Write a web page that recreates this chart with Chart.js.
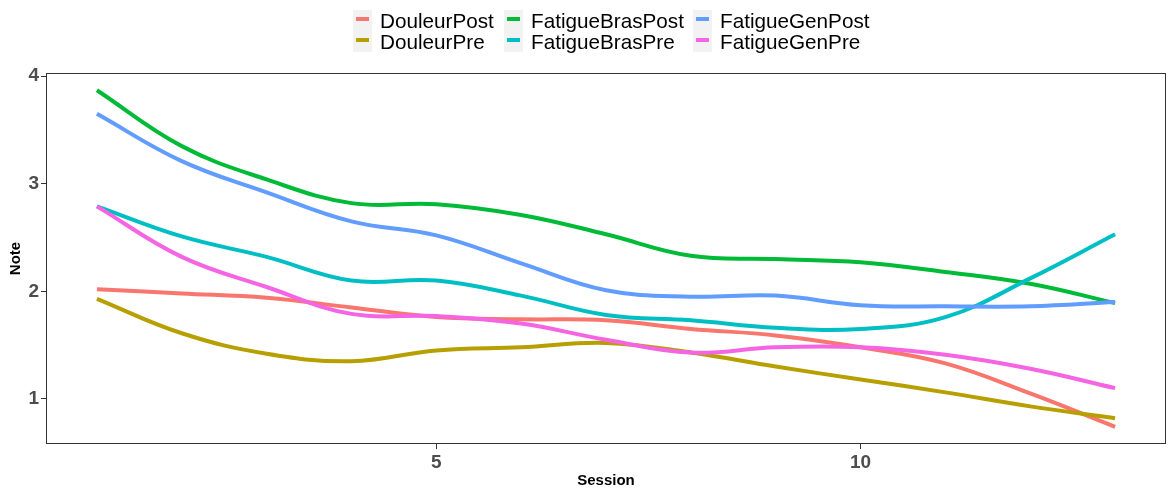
<!DOCTYPE html>
<html>
<head>
<meta charset="utf-8">
<script src="https://cdn.jsdelivr.net/npm/chart.js@4.4.1/dist/chart.umd.min.js"></script>
<style>
  html, body { margin: 0; padding: 0; background: #fff; }
  #wrap { position: relative; width: 1168px; height: 490px; }
  #legend {
    position: absolute; top: 10px; left: 353px;
    display: grid; grid-template-columns: 151px 189px auto; grid-template-rows: 21px 21px;
    grid-auto-flow: column;
    font-family: "Liberation Sans", Arial, sans-serif; font-size: 20.7px; color: #000;
  }
  .item { display: flex; align-items: center; height: 21px; line-height: 21px; white-space: nowrap; }
  .key { width: 19px; height: 21px; background: #f2f2f2; position: relative; margin-right: 8px; flex: none; }
  .key span { position: absolute; left: 3px; top: 7px; width: 13px; height: 4px; }
</style>
</head>
<body>
<div id="wrap">
  <canvas id="myChart" width="1168" height="490"></canvas>
  <div id="legend"></div>
</div>
<script>
const sessions = [1, 2, 3, 4, 5, 6, 7, 8, 9, 10, 11, 12, 13];
const douleurPost = [2.02, 1.98, 1.94, 1.85, 1.76, 1.74, 1.73, 1.65, 1.59, 1.48, 1.33, 1.05, 0.74];
const douleurPre = [1.93, 1.61, 1.42, 1.35, 1.45, 1.48, 1.52, 1.43, 1.30, 1.18, 1.06, 0.93, 0.82];
const fatigueBrasPost = [3.87, 3.35, 3.04, 2.82, 2.81, 2.71, 2.53, 2.33, 2.30, 2.27, 2.18, 2.07, 1.89];
const fatigueBrasPre = [2.79, 2.51, 2.32, 2.10, 2.10, 1.96, 1.78, 1.73, 1.66, 1.65, 1.76, 2.12, 2.53];
const fatigueGenPost = [3.65, 3.21, 2.92, 2.65, 2.52, 2.26, 2.01, 1.95, 1.96, 1.87, 1.86, 1.86, 1.90];
const fatigueGenPre = [2.79, 2.32, 2.04, 1.79, 1.77, 1.70, 1.55, 1.43, 1.48, 1.48, 1.41, 1.28, 1.10];

const seriesNames = ['DouleurPost', 'DouleurPre', 'FatigueBrasPost', 'FatigueBrasPre', 'FatigueGenPost', 'FatigueGenPre'];
const seriesValues = [douleurPost, douleurPre, fatigueBrasPost, fatigueBrasPre, fatigueGenPost, fatigueGenPre];
const seriesColors = ['#F8766D', '#B79F00', '#00BA38', '#00BFC4', '#619CFF', '#F564E3'];
const xTicks = [5, 10];
const yTicks = [1, 2, 3, 4];

const fontFamily = '"Liberation Sans", Arial, sans-serif';

// panel border like ggplot's theme_bw
const panelBorder = {
  id: 'panelBorder',
  afterDraw(chart) {
    const a = chart.chartArea;
    const c = chart.ctx;
    c.save();
    c.strokeStyle = '#333333';
    c.lineWidth = 1;
    c.strokeRect(a.left + 0.5, a.top + 0.5, a.right - a.left - 1, a.bottom - a.top - 1);
    c.restore();
  }
};

const ctx = document.getElementById('myChart').getContext('2d');
const myChart = new Chart(ctx, {
  type: 'line',
  data: {
    datasets: seriesNames.map((name, i) => ({
      label: name,
      data: sessions.map((s, j) => ({ x: s, y: seriesValues[i][j] })),
      borderColor: seriesColors[i],
      backgroundColor: seriesColors[i],
      borderWidth: 4,
      pointRadius: 0,
      tension: 0.4,
      fill: false,
      order: seriesNames.length - 1 - i
    }))
  },
  options: {
    responsive: false,
    animation: false,
    layout: { padding: { top: 73, right: 2, left: 0, bottom: 0 } },
    plugins: {
      legend: { display: false },
      tooltip: { enabled: false }
    },
    scales: {
      x: {
        type: 'linear',
        min: 0.4,
        max: 13.6,
        afterBuildTicks: scale => { scale.ticks = xTicks.map(v => ({ value: v })); },
        afterFit: scale => { scale.height = 46; },
        grid: { drawOnChartArea: false, tickLength: 5, color: '#333333', lineWidth: 1 },
        border: { display: false },
        ticks: { padding: 2, color: '#4d4d4d', font: { family: fontFamily, size: 19, weight: 'bold' } },
        title: {
          display: true, text: 'Session', color: '#000',
          font: { family: fontFamily, size: 15, weight: 'bold' },
          padding: { top: 0, bottom: 0 }
        }
      },
      y: {
        type: 'linear',
        min: 0.58,
        max: 4.03,
        afterBuildTicks: scale => { scale.ticks = yTicks.map(v => ({ value: v })); },
        afterFit: scale => { scale.width = 46; },
        grid: { drawOnChartArea: false, tickLength: 5, color: '#333333', lineWidth: 1 },
        border: { display: false },
        ticks: { padding: 2, color: '#4d4d4d', font: { family: fontFamily, size: 19, weight: 'bold' } },
        title: {
          display: true, text: 'Note', color: '#000',
          font: { family: fontFamily, size: 15, weight: 'bold' },
          padding: { top: 7, bottom: 0 }
        }
      }
    }
  },
  plugins: [panelBorder]
});

// legend in two rows, filled column by column
const legend = document.getElementById('legend');
myChart.data.datasets.forEach(ds => {
  const item = document.createElement('div');
  item.className = 'item';
  const key = document.createElement('div');
  key.className = 'key';
  const bar = document.createElement('span');
  bar.style.background = ds.borderColor;
  key.appendChild(bar);
  item.appendChild(key);
  item.appendChild(document.createTextNode(ds.label));
  legend.appendChild(item);
});
</script>
</body>
</html>
